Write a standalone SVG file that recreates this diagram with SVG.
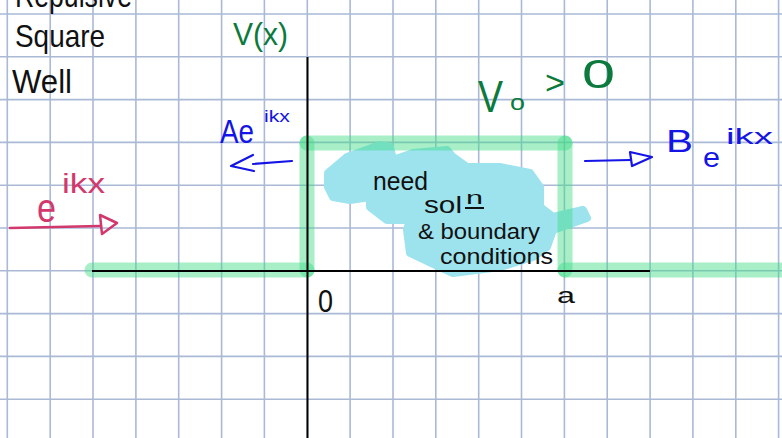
<svg xmlns="http://www.w3.org/2000/svg" width="782" height="438" viewBox="0 0 782 438">
<style>
.grid line{stroke:#a9b9d6;stroke-width:1.6}
.axis{stroke:#000;stroke-width:2;fill:none}
.well{stroke:#3ddc84;stroke-opacity:0.45;stroke-width:15;stroke-linecap:round;fill:none}
text{font-family:"Liberation Sans","DejaVu Sans",sans-serif}
.blk{fill:#111}
.grn{fill:#0b7a3c}
.blu{fill:#1414e6}
.pnk{fill:#d2386c}
.barr{stroke:#1414e6;stroke-width:2.2;fill:none;stroke-linecap:round;stroke-linejoin:round}
.parr{stroke:#d2386c;stroke-width:2.5;fill:none;stroke-linecap:round;stroke-linejoin:round}
</style>
<rect width="782" height="438" fill="#fff"/>
<g class="grid" id="grid">
<line x1="7.3" y1="0" x2="7.3" y2="438"/><line x1="50.2" y1="0" x2="50.2" y2="438"/><line x1="93" y1="0" x2="93" y2="438"/><line x1="135.9" y1="0" x2="135.9" y2="438"/><line x1="178.7" y1="0" x2="178.7" y2="438"/><line x1="221.6" y1="0" x2="221.6" y2="438"/><line x1="264.4" y1="0" x2="264.4" y2="438"/><line x1="307.3" y1="0" x2="307.3" y2="438"/><line x1="350.1" y1="0" x2="350.1" y2="438"/><line x1="393" y1="0" x2="393" y2="438"/><line x1="435.8" y1="0" x2="435.8" y2="438"/><line x1="478.7" y1="0" x2="478.7" y2="438"/><line x1="521.5" y1="0" x2="521.5" y2="438"/><line x1="564.4" y1="0" x2="564.4" y2="438"/><line x1="607.2" y1="0" x2="607.2" y2="438"/><line x1="650.1" y1="0" x2="650.1" y2="438"/><line x1="692.9" y1="0" x2="692.9" y2="438"/><line x1="735.8" y1="0" x2="735.8" y2="438"/><line x1="778.6" y1="0" x2="778.6" y2="438"/>
<line x1="0" y1="14" x2="782" y2="14"/><line x1="0" y1="56.8" x2="782" y2="56.8"/><line x1="0" y1="99.6" x2="782" y2="99.6"/><line x1="0" y1="142.4" x2="782" y2="142.4"/><line x1="0" y1="185.2" x2="782" y2="185.2"/><line x1="0" y1="228" x2="782" y2="228"/><line x1="0" y1="270.8" x2="782" y2="270.8"/><line x1="0" y1="313.6" x2="782" y2="313.6"/><line x1="0" y1="356.4" x2="782" y2="356.4"/><line x1="0" y1="399.2" x2="782" y2="399.2"/>
</g>
<g id="blob">
<path fill="#9de3ee" d="M328,173 L347,157 L380,145 L390,147 L393,160 L413,153 L447,150 L453,157 L467,167 L500,167 L530,173 L540,187 L540,207 L553,217 L583,210 L587,218 L553,230 L547,247 L533,257 L500,267 L453,273 L440,267 L410,253 L407,230 L410,220 L387,220 L370,207 L370,197 L350,200 L333,197 L328,187 Z" stroke="#9de3ee" stroke-width="8" stroke-linejoin="round"/>
</g>
<g id="well">
<line class="well" x1="92" y1="270" x2="307" y2="270"/>
<line class="well" x1="307" y1="270" x2="307" y2="143"/>
<line class="well" x1="307" y1="143" x2="565" y2="143"/>
<line class="well" x1="565" y1="143" x2="565" y2="270"/>
<line class="well" x1="565" y1="270" x2="790" y2="270"/>
</g>
<g id="axes">
<line class="axis" x1="307.5" y1="57" x2="307.5" y2="438"/>
<line class="axis" x1="92" y1="271" x2="650" y2="271"/>
</g>
<g id="title">
<text class="blk" x="15" y="7" font-size="34" textLength="117" lengthAdjust="spacingAndGlyphs">Repulsive</text>
<text class="blk" x="15" y="47" font-size="32" textLength="90" lengthAdjust="spacingAndGlyphs">Square</text>
<text class="blk" x="12" y="93" font-size="34" textLength="60" lengthAdjust="spacingAndGlyphs">Well</text>
</g>
<g id="potential-label">
<text class="grn" x="233" y="45" font-size="32" textLength="55" lengthAdjust="spacingAndGlyphs">V(x)</text>
</g>
<g id="v0-label">
<text class="grn" x="478" y="112" font-size="44" textLength="25" lengthAdjust="spacingAndGlyphs">V</text>
<text class="grn" x="510" y="110" font-size="22" textLength="15" lengthAdjust="spacingAndGlyphs">o</text>
<text class="grn" x="545" y="94" font-size="34" textLength="20" lengthAdjust="spacingAndGlyphs">&gt;</text>
<text class="grn" x="582" y="88" font-size="41" textLength="33" lengthAdjust="spacingAndGlyphs">0</text>
</g>
<g id="incident">
<text class="pnk" x="37" y="222" font-size="40" textLength="19" lengthAdjust="spacingAndGlyphs">e</text>
<text class="pnk" x="62" y="193" font-size="28" textLength="43" lengthAdjust="spacingAndGlyphs">ikx</text>
</g>
<g id="reflected">
<text class="blu" x="220" y="143" font-size="34" textLength="34" lengthAdjust="spacingAndGlyphs">Ae</text>
<text class="blu" x="264" y="122" font-size="17" textLength="26" lengthAdjust="spacingAndGlyphs">ikx</text>
</g>
<g id="transmitted">
<text class="blu" x="666" y="152" font-size="31" textLength="27" lengthAdjust="spacingAndGlyphs">B</text>
<text class="blu" x="703" y="167" font-size="28" textLength="17" lengthAdjust="spacingAndGlyphs">e</text>
<text class="blu" x="726" y="144" font-size="22" textLength="47" lengthAdjust="spacingAndGlyphs">ikx</text>
</g>
<g id="inside-note">
<text class="blk" x="373" y="190" font-size="26" textLength="55" lengthAdjust="spacingAndGlyphs">need</text>
<text class="blk" x="424" y="213" font-size="24" textLength="38" lengthAdjust="spacingAndGlyphs">sol</text>
<text class="blk" x="466" y="204" font-size="18" textLength="17" lengthAdjust="spacingAndGlyphs">n</text>
<line x1="465" y1="208" x2="484" y2="208" stroke="#111" stroke-width="2"/>
<text class="blk" x="418" y="239" font-size="22" textLength="122" lengthAdjust="spacingAndGlyphs">&amp; boundary</text>
<text class="blk" x="440" y="264" font-size="22" textLength="113" lengthAdjust="spacingAndGlyphs">conditions</text>
</g>
<g id="axis-labels">
<text class="blk" x="318" y="312" font-size="32" textLength="15" lengthAdjust="spacingAndGlyphs">0</text>
<text class="blk" x="557" y="303" font-size="22" textLength="18" lengthAdjust="spacingAndGlyphs">a</text>
</g>
<g id="connectors">
<path class="parr" d="M10,228 L100,226"/>
<path class="parr" d="M100,215 L117,223 L102,234 Z"/>
<path class="barr" d="M585,161 L630,160"/>
<path class="barr" d="M630,152 L652,157 L632,166 Z"/>
<path class="barr" d="M292,161 L253,164"/>
<path class="barr" d="M253,155 L231,166 L254,171"/>
</g>
</svg>
